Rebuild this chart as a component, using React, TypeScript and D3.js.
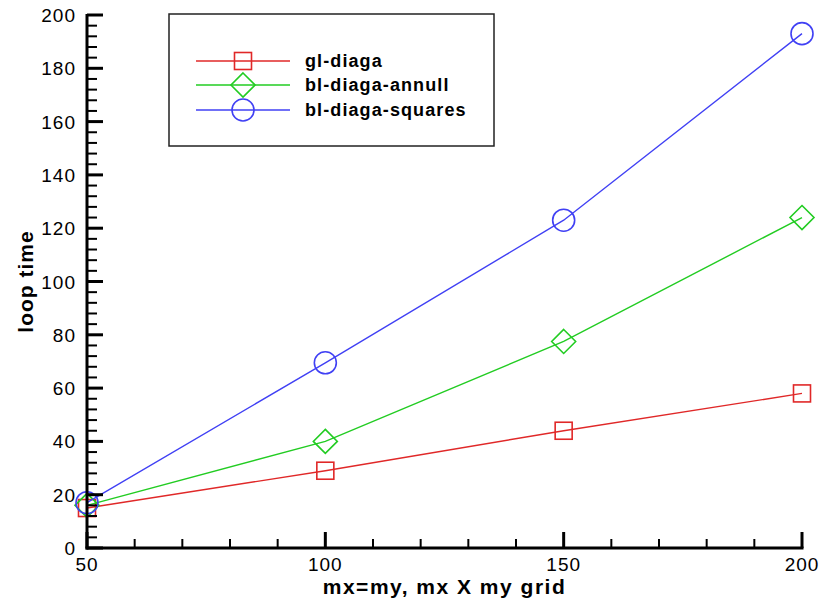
import React from 'react';
import * as d3 from 'd3';

// grid size (mx=my) on the x axis
const gridSizes = [50, 100, 150, 200];
// loop time per method
const glDiaga = [15, 29, 44, 58];
const blDiagaAnnull = [16, 40, 77.5, 124];
const blDiagaSquares = [17, 69.5, 123, 193];
const seriesNames = ['gl-diaga', 'bl-diaga-annull', 'bl-diaga-squares'];
const xMajorTicks = [50, 100, 150, 200];
const yMajorTicks = [0, 20, 40, 60, 80, 100, 120, 140, 160, 180, 200];

const W = 821;
const H = 605;
const margin = {left: 87, right: 19, top: 15, bottom: 57};
const font = '"Liberation Sans", Arial, Helvetica, sans-serif';
const colors = ['#e02828', '#22cc22', '#4040f4'];
const shapes = ['square', 'diamond', 'circle'];

const Marker = ({shape, x, y, color}: {shape: string; x: number; y: number; color: string}) => {
    if (shape === 'square') {
        return <rect x={x - 8.5} y={y - 8.5} width={17} height={17} fill="none" stroke={color} strokeWidth={1.6}/>;
    }
    if (shape === 'diamond') {
        const r = 12;
        return <polygon points={`${x},${y - r} ${x + r},${y} ${x},${y + r} ${x - r},${y}`}
                        fill="none" stroke={color} strokeWidth={1.6}/>;
    }
    return <circle cx={x} cy={y} r={11} fill="none" stroke={color} strokeWidth={1.6}/>;
};

export default function App() {
    const x = d3.scaleLinear().domain([50, 200]).range([margin.left, W - margin.right]);
    const y = d3.scaleLinear().domain([0, 200]).range([H - margin.bottom, margin.top]);
    const series = [glDiaga, blDiagaAnnull, blDiagaSquares];
    const line = d3.line<number>()
        .x((_, i) => x(gridSizes[i]))
        .y(d => y(d));
    const xMinor = d3.range(50, 201, 10).filter(v => !xMajorTicks.includes(v));
    const yMinor = d3.range(0, 201, 4).filter(v => !yMajorTicks.includes(v));
    const x0 = x(50);
    const y0 = y(0);

    // legend box
    const lg = {x: 169, y: 14, w: 325, h: 132};
    const legendRows = [61, 85, 110];

    return (
        <svg width={W} height={H} style={{position: 'absolute', left: 0, top: 0, background: '#fff'}}
             fontFamily={font}>
            {series.map((s, i) => (
                <g key={seriesNames[i]}>
                    <path d={line(s) || ''} fill="none" stroke={colors[i]} strokeWidth={1.4}/>
                    {s.map((v, j) => (
                        <Marker key={j} shape={shapes[i]} x={x(gridSizes[j])} y={y(v)} color={colors[i]}/>
                    ))}
                </g>
            ))}

            {/* axes */}
            <g stroke="#000" strokeWidth={3}>
                <line x1={x0} x2={x0} y1={y(200) - 1} y2={y0 + 1.5}/>
                <line x1={x0 - 1.5} x2={x(200) + 1.5} y1={y0} y2={y0}/>
                {yMajorTicks.map(v => <line key={'ym' + v} x1={x0} x2={x0 + 16} y1={y(v)} y2={y(v)}/>)}
                {yMinor.map(v => <line key={'yn' + v} x1={x0} x2={x0 + 10} y1={y(v)} y2={y(v)} strokeWidth={2}/>)}
                {xMajorTicks.map(v => <line key={'xm' + v} x1={x(v)} x2={x(v)} y1={y0} y2={y0 - 16}/>)}
                {xMinor.map(v => <line key={'xn' + v} x1={x(v)} x2={x(v)} y1={y0} y2={y0 - 9} strokeWidth={2}/>)}
            </g>
            {yMajorTicks.map(v => (
                <text key={'yl' + v} x={x0 - 11} y={y(v) + 7} textAnchor="end" fontSize={19}
                      letterSpacing={1}>{v}</text>
            ))}
            {xMajorTicks.map(v => (
                <text key={'xl' + v} x={x(v)} y={y0 + 23} textAnchor="middle" fontSize={19}
                      letterSpacing={1}>{v}</text>
            ))}
            <text x={(x0 + x(200)) / 2} y={H - 11} textAnchor="middle" fontSize={21} fontWeight="bold"
                  letterSpacing={1.5}>
                mx=my, mx X my grid
            </text>
            <text transform={`translate(33,${(y(0) + y(200)) / 2}) rotate(-90)`} textAnchor="middle"
                  fontSize={21} fontWeight="bold" letterSpacing={1}>loop time</text>

            {/* legend */}
            <rect x={lg.x} y={lg.y} width={lg.w} height={lg.h} fill="#fff" stroke="#222" strokeWidth={1.5}/>
            {seriesNames.map((name, i) => (
                <g key={'lg' + name}>
                    <line x1={196} x2={290} y1={legendRows[i]} y2={legendRows[i]} stroke={colors[i]} strokeWidth={1.4}/>
                    <Marker shape={shapes[i]} x={243} y={legendRows[i]} color={colors[i]}/>
                    <text x={305} y={legendRows[i] + 6} fontSize={18} fontWeight="bold"
                          letterSpacing={1.1}>{name}</text>
                </g>
            ))}
        </svg>
    );
}
